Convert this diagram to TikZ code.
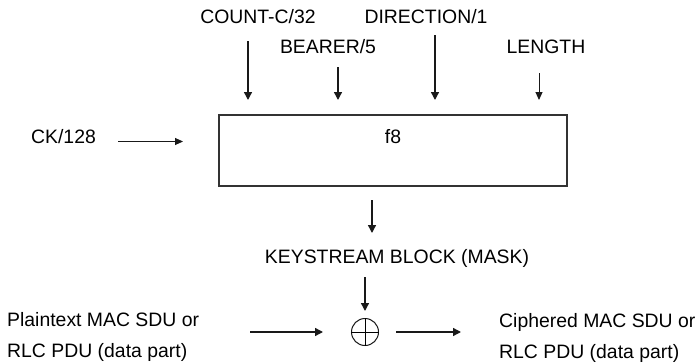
\documentclass[tikz,border=0pt]{standalone}
\usepackage{fontspec}
\setmainfont{Liberation Sans}
\usetikzlibrary{arrows.meta}
\begin{document}
\begin{tikzpicture}[x=1pt,y=-1pt,
  lbl/.style={anchor=base, inner sep=0pt, font=\fontsize{19.4}{23}\selectfont, text=black},
  arr/.style={line width=1.4pt, draw=black!90, -{Triangle[length=8pt,width=8pt]}},
  thinarr/.style={line width=1pt, draw=black!90, -{Triangle[length=8pt,width=7pt]}},
]
\useasboundingbox (0,0) rectangle (697,362);
% top labels
\node[lbl] (count) at (258,23) {COUNT-C/32};
\node[lbl] (dir) at (426,23) {DIRECTION/1};
\node[lbl] (bearer) at (328,53) {BEARER/5};
\node[lbl] (len) at (546,53) {LENGTH};
% f8 box
\node[draw=black!80, line width=1.3pt, minimum width=348pt, minimum height=71pt, inner sep=0pt] (f8box) at (393,150.5) {};
\node[lbl] (f8) at (393,143) {f8};
% top arrows
\coordinate (cA) at (248,41);  \coordinate (cAe) at (248,100);
\coordinate (bA) at (338,67);  \coordinate (bAe) at (338,100);
\coordinate (dA) at (435,35);  \coordinate (dAe) at (435,100);
\coordinate (lA) at (539,73);  \coordinate (lAe) at (539,100);
\draw[arr] (cA) -- (cAe);
\draw[arr] (bA) -- (bAe);
\draw[arr] (dA) -- (dAe);
\draw[thinarr] (lA) -- (lAe);
% CK
\node[lbl] (ck) at (63.5,143) {CK/128};
\coordinate (ckA) at (118,141.5); \coordinate (ckAe) at (183,141.5);
\draw[thinarr] (ckA) -- (ckAe);
% keystream
\coordinate (kA) at (372,200); \coordinate (kAe) at (372,233);
\draw[arr] (kA) -- (kAe);
\node[lbl] (ks) at (397,263) {KEYSTREAM BLOCK (MASK)};
% xor
\node[circle, draw=black!90, line width=1pt, minimum size=27pt, inner sep=0pt] (xor) at (365,332) {};
\draw[line width=1pt] (xor.north) -- (xor.south) (xor.west) -- (xor.east);
\coordinate (mA) at (365,277); \coordinate (mAe) at (365,311);
\draw[arr] (mA) -- (mAe);
\coordinate (pA) at (250,332); \coordinate (pAe) at (323,332);
\draw[arr] (pA) -- (pAe);
\coordinate (oA) at (396,332); \coordinate (oAe) at (461,332);
\draw[arr] (oA) -- (oAe);
% side texts
\node[lbl, anchor=base west] (p1) at (7,326) {Plaintext MAC SDU or};
\node[lbl, anchor=base west] (p2) at (7,357) {RLC PDU (data part)};
\node[lbl, anchor=base west] (c1) at (499,327) {Ciphered MAC SDU or};
\node[lbl, anchor=base west] (c2) at (499,358) {RLC PDU (data part)};
\end{tikzpicture}
\end{document}
